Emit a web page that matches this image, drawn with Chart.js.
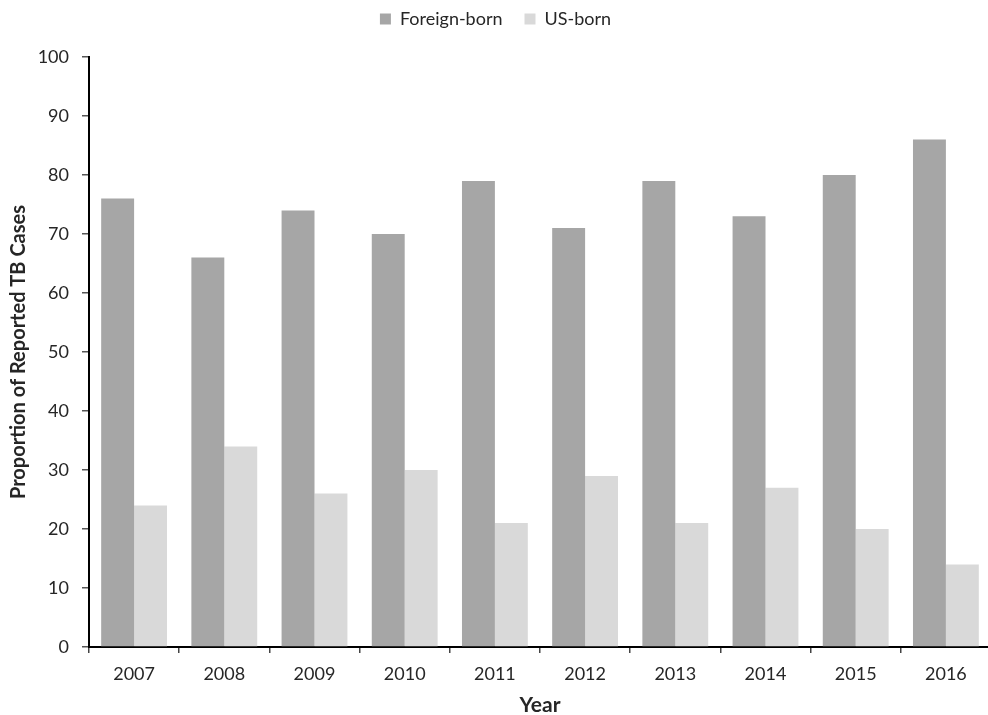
<!DOCTYPE html>
<html>
<head>
<meta charset="utf-8">
<script src="https://cdn.jsdelivr.net/npm/chart.js@4"></script>
<style>
  html, body { margin: 0; padding: 0; background: #fff; overflow: hidden; }
  #wrap { width: 992px; height: 715px; }
</style>
</head>
<body>
<div id="wrap"><canvas id="barchart" width="992" height="715"></canvas></div>
<script>
var years = ["2007", "2008", "2009", "2010", "2011", "2012", "2013", "2014", "2015", "2016"];
var foreignBorn = [76, 66, 74, 70, 79, 71, 79, 73, 80, 86];
var usBorn = [24, 34, 26, 30, 21, 29, 21, 27, 20, 14];

var fontFamily = "Lato, 'Open Sans', sans-serif";
var textColor = "#262626";

// legend sits higher, chart area starts lower
var legendSpace = {
  id: "legendSpace",
  beforeInit: function (chart) {
    var fit = chart.legend.fit;
    chart.legend.fit = function () {
      fit.bind(chart.legend)();
      this.height = 69;
    };
  }
};

function barchart() {
  var ctx = document.getElementById("barchart").getContext('2d');
  var myChart = new Chart(ctx, {
    type: "bar",
    data: {
      labels: years,
      datasets: [
        {
          label: "Foreign-born",
          data: foreignBorn,
          backgroundColor: "#a6a6a6",
          borderWidth: 0,
          categoryPercentage: 0.73,
          barPercentage: 1.0
        },
        {
          label: "US-born",
          data: usBorn,
          backgroundColor: "#d9d9d9",
          borderWidth: 0,
          categoryPercentage: 0.73,
          barPercentage: 1.0
        }
      ]
    },
    options: {
      responsive: false,
      animation: false,
      layout: { padding: { top: -12, right: 1, left: 0, bottom: 0 } },
      plugins: {
        tooltip: { enabled: false },
        legend: {
          position: "top",
          align: "center",
          labels: {
            boxWidth: 11,
            boxHeight: 11,
            color: textColor,
            font: { family: fontFamily, size: 18 },
            padding: 22
          }
        }
      },
      scales: {
        x: {
          grid: {
            display: true,
            drawOnChartArea: false,
            drawTicks: true,
            tickLength: 6,
            color: "#444",
            lineWidth: 1.5,
            offset: true
          },
          border: { display: true, color: "#000", width: 2 },
          ticks: {
            color: textColor,
            font: { family: fontFamily, size: 18 },
            padding: 10,
            maxRotation: 0
          },
          title: {
            display: true,
            text: "Year",
            color: textColor,
            font: { family: fontFamily, size: 21, weight: "bold" },
            padding: { top: 4, bottom: -3 }
          },
          afterFit: function (scale) { scale.height = 68; }
        },
        y: {
          min: 0,
          max: 100,
          ticks: {
            stepSize: 10,
            color: textColor,
            font: { family: fontFamily, size: 18 },
            padding: 13
          },
          grid: {
            display: true,
            drawOnChartArea: false,
            drawTicks: true,
            tickLength: 7,
            color: "#555",
            lineWidth: 1.5
          },
          border: { display: true, color: "#000", width: 2 },
          title: {
            display: true,
            text: "Proportion of Reported TB Cases",
            color: textColor,
            font: { family: fontFamily, size: 20, weight: "bold" },
            padding: { top: 7, bottom: 8 }
          },
          afterFit: function (scale) { scale.width = 89; }
        }
      }
    },
    plugins: [legendSpace]
  });
}

barchart()
</script>
</body>
</html>
